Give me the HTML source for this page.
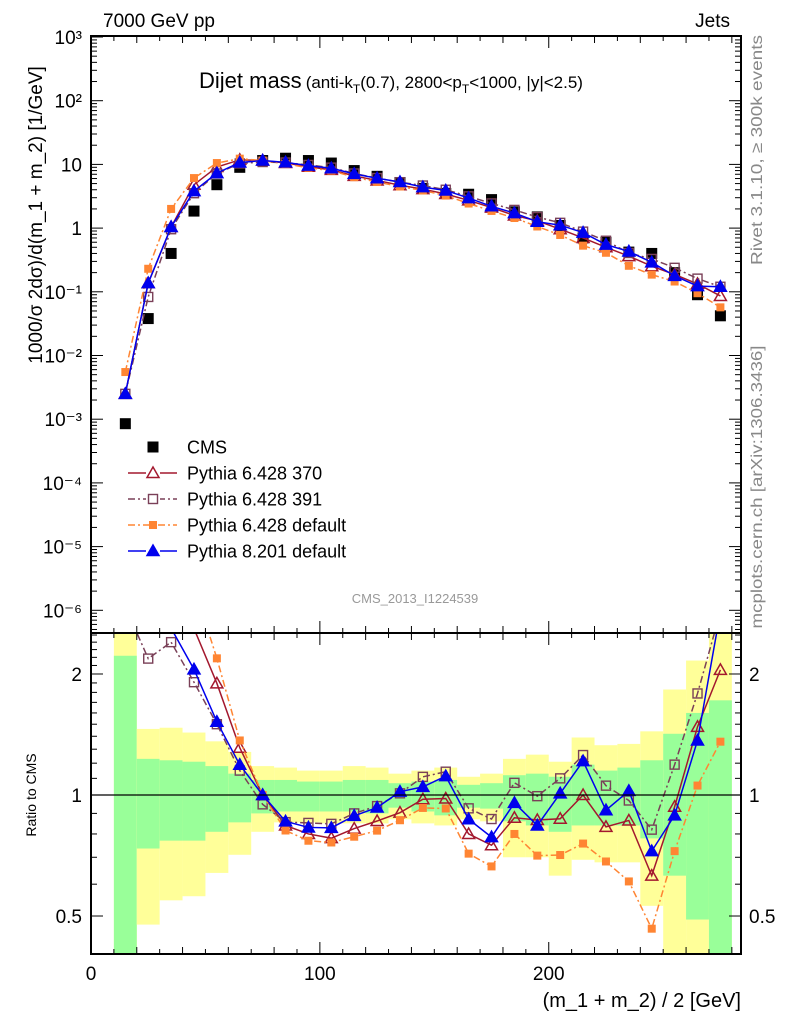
<!DOCTYPE html>
<html><head><meta charset="utf-8"><style>
html,body{margin:0;padding:0;background:#fff;}
svg{display:block;font-family:"Liberation Sans",sans-serif;}
</style></head><body>
<svg id="chart" width="786" height="1024" viewBox="0 0 786 1024" xmlns="http://www.w3.org/2000/svg">
<defs>
<clipPath id="clipTop"><rect x="91" y="36" width="650" height="597"/></clipPath>
<clipPath id="clipRat"><rect x="91" y="633" width="650" height="321"/></clipPath>
</defs>
<g id="bands" clip-path="url(#clipRat)"></g>
<g id="series"></g>
<g id="axes"></g>
<text x="103" y="27" font-size="19">7000 GeV pp</text>
<text x="730" y="27" font-size="19" text-anchor="end">Jets</text>
<text x="199" y="88" font-size="22">Dijet mass<tspan font-size="17" dx="4">(anti-k</tspan><tspan font-size="12" dy="5">T</tspan><tspan font-size="17" dy="-5">(0.7), 2800&lt;p</tspan><tspan font-size="12" dy="5">T</tspan><tspan font-size="17" dy="-5">&lt;1000, |y|&lt;2.5)</tspan></text>
<text transform="translate(42,215) rotate(-90)" font-size="19" text-anchor="middle">1000/σ 2dσ)/d(m_1 + m_2) [1/GeV]</text>
<text transform="translate(36,795) rotate(-90)" font-size="14" text-anchor="middle">Ratio to CMS</text>
<text transform="translate(762,150) rotate(-90)" font-size="16" fill="#888" text-anchor="middle" textLength="230" lengthAdjust="spacingAndGlyphs">Rivet 3.1.10, ≥ 300k events</text>
<text transform="translate(762,487) rotate(-90)" font-size="16" fill="#888" text-anchor="middle" textLength="283" lengthAdjust="spacingAndGlyphs">mcplots.cern.ch [arXiv:1306.3436]</text>
<text x="415" y="603" font-size="13" fill="#999" text-anchor="middle">CMS_2013_I1224539</text>
<text x="741" y="1007" font-size="20" text-anchor="end">(m_1 + m_2) / 2 [GeV]</text>
<g id="legend"></g>
</svg>
<script>
// ---- data ----
const binCenters = [15,25,35,45,55,65,75,85,95,105,115,125,135,145,155,165,175,185,195,205,215,225,235,245,255,265,275];
const cmsValues = [0.00085,0.038,0.4,1.85,4.8,9,11.5,12.5,11.5,10.5,8,6.5,5.2,4.2,3.5,3.4,2.8,1.8,1.5,1.1,0.7,0.6,0.42,0.4,0.2,0.09,0.042];
const py370Values = [0.0025,0.137,1.04,4.8,9.1,11.8,11.5,10.5,9.2,8.2,6.6,5.6,4.7,4.1,3.43,2.72,2.1,1.58,1.3,0.96,0.70,0.50,0.363,0.252,0.187,0.133,0.086];
const py391Values = [0.0025,0.083,0.96,3.53,7.2,10.35,10.9,10.7,9.8,8.9,7.2,6.1,5.25,4.66,4.0,3.15,2.44,1.93,1.49,1.21,0.88,0.633,0.407,0.328,0.238,0.161,0.12];
const pyDefValues = [0.0055,0.23,2.0,6.1,10.5,12.3,11.5,10.2,8.85,8.0,6.3,5.3,4.5,3.9,3.24,2.43,1.86,1.44,1.06,0.78,0.53,0.41,0.256,0.186,0.145,0.095,0.057];
const py8Values = [0.0025,0.137,1.04,3.8,7.3,10.7,11.5,10.75,9.55,8.7,7.1,6.05,5.3,4.4,3.9,2.96,2.2,1.72,1.26,1.11,0.85,0.55,0.43,0.29,0.178,0.123,0.12];
const binLow = [10,20,30,40,50,60,70,80,90,100,110,120,130,140,150,160,170,180,190,200,210,220,230,240,250,260,270];
const greenHi = [2.22,1.23,1.22,1.21,1.18,1.13,1.09,1.09,1.08,1.08,1.09,1.09,1.07,1.08,1.09,1.06,1.07,1.12,1.13,1.11,1.19,1.15,1.17,1.22,1.42,1.60,1.72];
const greenLo = [0.3,0.736,0.77,0.77,0.81,0.855,0.90,0.91,0.91,0.91,0.91,0.90,0.93,0.91,0.89,0.93,0.925,0.86,0.84,0.81,0.84,0.84,0.84,0.78,0.63,0.49,0.3];
const yellowHi = [3,1.46,1.47,1.43,1.36,1.28,1.18,1.17,1.15,1.15,1.18,1.17,1.13,1.15,1.17,1.11,1.13,1.23,1.26,1.21,1.39,1.33,1.34,1.44,1.83,2.16,3];
const yellowLo = [0.3,0.476,0.547,0.56,0.64,0.71,0.81,0.855,0.855,0.85,0.85,0.85,0.87,0.85,0.84,0.87,0.86,0.70,0.70,0.63,0.69,0.68,0.68,0.53,0.3,0.3,0.3];
const topTickLabels = ["10³","10²","10","1","10⁻¹","10⁻²","10⁻³","10⁻⁴","10⁻⁵","10⁻⁶"];
const xTickLabels = ["0","100","200"];
const ratioTickLabels = ["2","1","0.5"];
const ratioTickValues = [2,1,0.5];

// ---- axes ----
const X0=91, X1=741, XMIN=0, XMAX=284;
const TY0=36, TY1=633, YTOPLOG=3.0, YPX=63.7;
const RY0=633, RY1=954;
function sx(v){return X0+(v-XMIN)/(XMAX-XMIN)*(X1-X0);}
function sy(v){return 37+(YTOPLOG-Math.log10(v))*YPX;}
function sr(v){return 795-Math.log10(v)*402;}

const NS="http://www.w3.org/2000/svg";
function mk(tag,attrs,parent){const e=document.createElementNS(NS,tag);for(const k in attrs)e.setAttribute(k,attrs[k]);parent.appendChild(e);return e;}
const bands=document.getElementById('bands');
const series=document.getElementById('series');
const axes=document.getElementById('axes');
const legend=document.getElementById('legend');

for(let i=0;i<binLow.length;i++){
  const xa=sx(binLow[i]), xb=sx(binLow[i]+10);
  const y1=mk('rect',{x:xa,y:sr(yellowHi[i]),width:xb-xa,height:sr(yellowLo[i])-sr(yellowHi[i]),fill:'#ffff99'},bands);
  
  
  const g1=mk('rect',{x:xa,y:sr(greenHi[i]),width:xb-xa,height:sr(greenLo[i])-sr(greenHi[i]),fill:'#99ff99'},bands);
  
  
}
const ul=mk('line',{x1:X0,x2:X1,y1:sr(1),y2:sr(1),stroke:'#000','stroke-width':1.3},axes);



const defs=[
 {name:'pythia-6428-370',vals:py370Values,color:'#a3182e',dash:'',marker:'tri-open',label:'Pythia 6.428 370'},
 {name:'pythia-6428-391',vals:py391Values,color:'#7a4058',dash:'7,3,2,3',marker:'sq-open',label:'Pythia 6.428 391'},
 {name:'pythia-6428-default',vals:pyDefValues,color:'#ff8533',dash:'7,3,2,3',marker:'sq-fill',label:'Pythia 6.428 default'},
 {name:'pythia-8201-default',vals:py8Values,color:'#0000ee',dash:'',marker:'tri-fill',label:'Pythia 8.201 default'}
];
function marker(kind,x,y,color,parent){
  let e;
  if(kind==='tri-open'||kind==='tri-fill'){
    const s=6;
    e=mk('polygon',{points:`${x},${y-s} ${x-s},${y+s*0.75} ${x+s},${y+s*0.75}`,fill:kind==='tri-fill'?color:'none',stroke:color,'stroke-width':1.5},parent);
  }else if(kind==='sq-open'){
    e=mk('rect',{x:x-4.5,y:y-4.5,width:9,height:9,fill:'none',stroke:color,'stroke-width':1.4},parent);
  }else if(kind==='sq-fill'){
    e=mk('rect',{x:x-4,y:y-4,width:8,height:8,fill:color},parent);
  }else{
    e=mk('rect',{x:x-5.5,y:y-5.5,width:11,height:11,fill:'#000'},parent);
  }
  return e;
}
const cmsG=mk('g',{},series);


binCenters.forEach((c,i)=>{
  const m=marker('cms',sx(c),sy(cmsValues[i]),'#000',cmsG);
  
  
});
defs.forEach(d=>{
  const gt=mk('g',{'clip-path':'url(#clipTop)'},series);
  
  
  const ptsT=binCenters.map((c,i)=>sx(c)+','+sy(d.vals[i])).join(' ');
  const lt=mk('polyline',{points:ptsT,fill:'none',stroke:d.color,'stroke-width':1.5,'stroke-dasharray':d.dash},gt);
  
  
  binCenters.forEach((c,i)=>{
    const m=marker(d.marker,sx(c),sy(d.vals[i]),d.color,gt);
    
    
  });
  const gr=mk('g',{'clip-path':'url(#clipRat)'},series);
  
  
  const ptsR=binCenters.map((c,i)=>sx(c)+','+sr(d.vals[i]/cmsValues[i])).join(' ');
  const lr=mk('polyline',{points:ptsR,fill:'none',stroke:d.color,'stroke-width':1.5,'stroke-dasharray':d.dash},gr);
  
  
  binCenters.forEach((c,i)=>{
    const m=marker(d.marker,sx(c),sr(d.vals[i]/cmsValues[i]),d.color,gr);
    
    
  });
});

[[TY0,TY1],[RY0,RY1]].forEach(([a,b],k)=>{
  const f=mk('rect',{x:X0,y:a,width:X1-X0,height:b-a,fill:'none',stroke:'#000','stroke-width':2},axes);
  
  
});
for(let v=0;v<=280;v+=10){
  const len=(v%100===0)?12:((v%20===0)?7:5);
  [TY0,RY0].forEach(y=>{mk('line',{x1:sx(v),x2:sx(v),y1:y,y2:y+len,stroke:'#000','stroke-width':1},axes);});
  [TY1,RY1].forEach(y=>{mk('line',{x1:sx(v),x2:sx(v),y1:y,y2:y-len,stroke:'#000','stroke-width':1},axes);});
}
xTickLabels.forEach((t,i)=>{
  const tx=mk('text',{x:sx(i*100),y:980,'font-size':19,'text-anchor':'middle'},axes);
  tx.textContent=t;
  
  
});
for(let d=-7;d<3;d++){
  for(let m=1;m<10;m++){
    const v=m*Math.pow(10,d);
    const y=sy(v);
    if(y<TY0-0.5||y>TY1)continue;
    const len=m===1?12:6;
    mk('line',{x1:X0,x2:X0+len,y1:y,y2:y,stroke:'#000','stroke-width':1},axes);
    mk('line',{x1:X1,x2:X1-len,y1:y,y2:y,stroke:'#000','stroke-width':1},axes);
  }
}
mk('line',{x1:X0,x2:X0+12,y1:sy(1000),y2:sy(1000),stroke:'#000','stroke-width':1},axes);
topTickLabels.forEach((t,i)=>{
  const tx=mk('text',{x:82,y:sy(Math.pow(10,3-i))+7,'font-size':19,'text-anchor':'end'},axes);
  tx.textContent=t;
  
  
});
for(let v=0.4;v<=2.55;v+=0.1){
  const y=sr(v);
  if(y<RY0||y>RY1)continue;
  const major=Math.abs(v-0.5)<1e-6||Math.abs(v-1)<1e-6||Math.abs(v-2)<1e-6;
  const len=major?12:6;
  mk('line',{x1:X0,x2:X0+len,y1:y,y2:y,stroke:'#000','stroke-width':1},axes);
  mk('line',{x1:X1,x2:X1-len,y1:y,y2:y,stroke:'#000','stroke-width':1},axes);
}
ratioTickLabels.forEach((t,i)=>{
  const y=sr(ratioTickValues[i])+7;
  const l=mk('text',{x:82,y:y,'font-size':19,'text-anchor':'end'},axes);
  l.textContent=t;
  
  
  const r=mk('text',{x:749,y:y,'font-size':19,'text-anchor':'start'},axes);
  r.textContent=t;
  
  
});
const legRows=[{label:'CMS',marker:'cms',color:'#000',dash:null}].concat(defs);
legRows.forEach((d,i)=>{
  const y=447+i*26;
  const g=mk('g',{},legend);
  
  
  if(d.dash!==null){mk('line',{x1:128,x2:177,y1:y,y2:y,stroke:d.color,'stroke-width':1.5,'stroke-dasharray':d.dash},g);}
  if(d.marker!=='cms'&&d.marker!=='sq-fill'){mk('rect',{x:146,y:y-7,width:14,height:14,fill:'#fff'},g);}
  marker(d.marker,153,y,d.color,g);
  const t=mk('text',{x:187,y:y+6.5,'font-size':18},g);
  t.textContent=d.label;
});
</script>
</body></html>
